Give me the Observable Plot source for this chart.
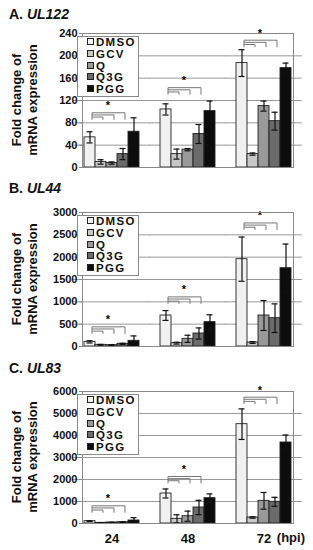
<!DOCTYPE html>
<html><head><meta charset="utf-8">
<script src="https://cdn.jsdelivr.net/npm/d3@7"></script>
<script src="https://cdn.jsdelivr.net/npm/@observablehq/plot@0.6"></script>
<style>
html,body{margin:0;padding:0;background:#fff;overflow:hidden;}
#root{position:relative;width:313px;height:550px;font-family:"Liberation Sans",Arial,sans-serif;color:#111;}
.title{position:absolute;left:9px;font-size:14px;font-weight:bold;line-height:14px;white-space:nowrap;}
.title i{font-style:italic;}
.svgwrap{position:absolute;left:0;}
.ylab{position:absolute;width:140px;height:32px;font-size:13px;font-weight:bold;line-height:16px;text-align:center;transform:rotate(-90deg);white-space:nowrap;}
.legend{position:absolute;left:77px;width:60px;height:59px;border:1px solid #888;background:#fff;}
.legend .row{height:11.8px;line-height:11.8px;font-size:11.5px;font-weight:bold;letter-spacing:1.3px;padding-left:9px;white-space:nowrap;}
.legend .sw{display:inline-block;width:5px;height:5px;border:1px solid #222;margin-right:2px;vertical-align:1px;}
.hpi{position:absolute;right:8px;top:531px;font-size:13px;font-weight:bold;line-height:13px;}
</style>
</head><body><div id="root"></div>
<script>
// ---- data ----
const treatments = ["DMSO", "GCV", "Q", "Q3G", "PGG"];
const hpi = ["24", "48", "72"];
const colors = ["#f1f1f1", "#c8c8c8", "#999999", "#6b6b6b", "#0c0c0c"];

const ul122Mean = [[54, 10, 8, 24, 64], [104, 24, 32, 60, 101], [187, 24, 110, 83, 178]];
const ul122Err  = [[10, 4, 2, 10, 25], [10, 9, 2, 17, 18], [24, 2, 9, 16, 9]];
const ul122Ticks = [0, 40, 80, 120, 160, 200, 240];
const ul122Bracket = [98, 143, 228];

const ul44Mean = [[104, 37, 30, 60, 127], [694, 75, 172, 291, 545], [1955, 90, 694, 634, 1753]];
const ul44Err  = [[25, 10, 8, 12, 110], [110, 20, 80, 125, 165], [495, 20, 335, 320, 540]];
const ul44Ticks = [0, 500, 1000, 1500, 2000, 2500, 3000];
const ul44Bracket = [440, 1111, 2766];

const ul83Mean = [[106, 30, 45, 60, 136], [1364, 212, 333, 727, 1151], [4515, 273, 1030, 985, 3682]];
const ul83Err  = [[15, 8, 10, 12, 130], [205, 185, 230, 325, 195], [695, 30, 380, 205, 340]];
const ul83Ticks = [0, 1000, 2000, 3000, 4000, 5000, 6000];
const ul83Bracket = [803, 2136, 5742];

const panels = [
  {letter: "A.", gene: "UL122", mean: ul122Mean, err: ul122Err, ticks: ul122Ticks, bracket: ul122Bracket,
   titleTop: 7, svgTop: 24, mt: 9, ph: 134, mb: 6, fxAxis: false},
  {letter: "B.", gene: "UL44", mean: ul44Mean, err: ul44Err, ticks: ul44Ticks, bracket: ul44Bracket,
   titleTop: 181, svgTop: 200, mt: 12, ph: 134, mb: 6, fxAxis: false},
  {letter: "C.", gene: "UL83", mean: ul83Mean, err: ul83Err, ticks: ul83Ticks, bracket: ul83Bracket,
   titleTop: 361, svgTop: 380, mt: 11, ph: 132, mb: 27, fxAxis: true}
];

const root = document.getElementById("root");
const PAD_IN = 0.22, PAD_OUT = 0.12, ML = 73, MR = 10, W = 313;
// half of the facet gap, so per-facet grid lines join into continuous lines
const facetStep = (W - ML - MR) / (hpi.length - PAD_IN + 2 * PAD_OUT);
const ext = -Math.min(facetStep * PAD_OUT, facetStep * PAD_IN / 2 + 0.5);

function makePanel(cfg) {
  const rows = [];
  hpi.forEach((h, i) => treatments.forEach((t, j) =>
    rows.push({hpi: h, treatment: t, mean: cfg.mean[i][j], err: cfg.err[i][j]})));
  const yMax = cfg.ticks[cfg.ticks.length - 1];
  const levels = {GCV: 2, Q: 1, Q3G: 0};
  const drop = yMax * 0.052, step = yMax * 0.016;
  const brk = [];
  hpi.forEach((h, i) => ["GCV", "Q", "Q3G"].forEach(t =>
    brk.push({hpi: h, target: t, y: cfg.bracket[i] - levels[t] * step, bottom: cfg.bracket[i] - drop})));
  const left = hpi.map((h, i) => ({hpi: h, top: cfg.bracket[i], bottom: cfg.bracket[i] - drop}));

  const marks = [
    Plot.ruleY(cfg.ticks.slice(1, -1), {stroke: "#9a9a9a", insetLeft: ext, insetRight: ext}),
    Plot.barY(rows, {fx: "hpi", x: "treatment", y: "mean", fill: "treatment", stroke: "#222", strokeWidth: 0.9}),
    Plot.ruleX(rows, {fx: "hpi", x: "treatment", y1: d => d.mean - d.err, y2: d => d.mean + d.err, stroke: "#111", strokeWidth: 1.2}),
    Plot.tickY(rows, {fx: "hpi", x: "treatment", y: d => d.mean + d.err, insetLeft: 2.5, insetRight: 2.5, stroke: "#111", strokeWidth: 1.2}),
    Plot.tickY(rows, {fx: "hpi", x: "treatment", y: d => d.mean - d.err, insetLeft: 2.5, insetRight: 2.5, stroke: "#111", strokeWidth: 1.2}),
    Plot.link(brk, {fx: "hpi", x1: () => "DMSO", x2: "target", y1: "y", y2: "y", stroke: "#777", dx: 2}),
    Plot.link(brk, {fx: "hpi", x1: "target", x2: "target", y1: "y", y2: "bottom", stroke: "#777", dx: 2}),
    Plot.link(left, {fx: "hpi", x1: () => "DMSO", x2: () => "DMSO", y1: "top", y2: "bottom", stroke: "#777", dx: 2}),
    Plot.text(left, {fx: "hpi", x: () => "Q", y: "top", text: () => "*", dy: -7, dx: -4, fontSize: 11, fill: "black"}),
    Plot.axisY(cfg.ticks, {tickSize: 3, tickPadding: 2, stroke: "#888", label: null, fontSize: 11, tickFormat: d => String(d)}),
    Plot.frame({facet: "super", stroke: "#888"})
  ];
  if (cfg.fxAxis) marks.push(Plot.axisFx({anchor: "bottom", tickSize: 0, tickPadding: 10, fontSize: 13, label: null}));

  const svg = Plot.plot({
    width: W,
    height: cfg.mt + cfg.ph + cfg.mb,
    marginLeft: ML, marginRight: MR, marginTop: cfg.mt, marginBottom: cfg.mb,
    style: {fontFamily: "'Liberation Sans', Arial, sans-serif", fontWeight: "bold", fontSize: "11px", color: "#111", background: "#fff"},
    fx: {domain: hpi, paddingInner: PAD_IN, paddingOuter: PAD_OUT, axis: null, label: null},
    x: {domain: treatments, padding: 0, axis: null},
    y: {domain: [0, yMax], axis: null},
    color: {domain: treatments, range: colors},
    marks
  });

  const title = document.createElement("div");
  title.className = "title";
  title.style.top = cfg.titleTop + "px";
  title.innerHTML = cfg.letter + " <i>" + cfg.gene + "</i>";
  root.appendChild(title);

  const wrap = document.createElement("div");
  wrap.className = "svgwrap";
  wrap.style.top = cfg.svgTop + "px";
  wrap.appendChild(svg);
  root.appendChild(wrap);

  const plotTop = cfg.svgTop + cfg.mt;
  const ylab = document.createElement("div");
  ylab.className = "ylab";
  ylab.innerHTML = "Fold change of<br>mRNA expression";
  ylab.style.left = (25 - 70) + "px";
  ylab.style.top = (plotTop + cfg.ph / 2 - 16) + "px";
  root.appendChild(ylab);

  const leg = document.createElement("div");
  leg.className = "legend";
  leg.style.top = (plotTop + 3) + "px";
  treatments.forEach((t, j) => {
    const r = document.createElement("div");
    r.className = "row";
    r.innerHTML = '<span class="sw" style="background:' + colors[j] + '"></span>' + t;
    leg.appendChild(r);
  });
  root.appendChild(leg);
}

panels.forEach(makePanel);

const hp = document.createElement("div");
hp.className = "hpi";
hp.textContent = "(hpi)";
root.appendChild(hp);
</script>
</body></html>
